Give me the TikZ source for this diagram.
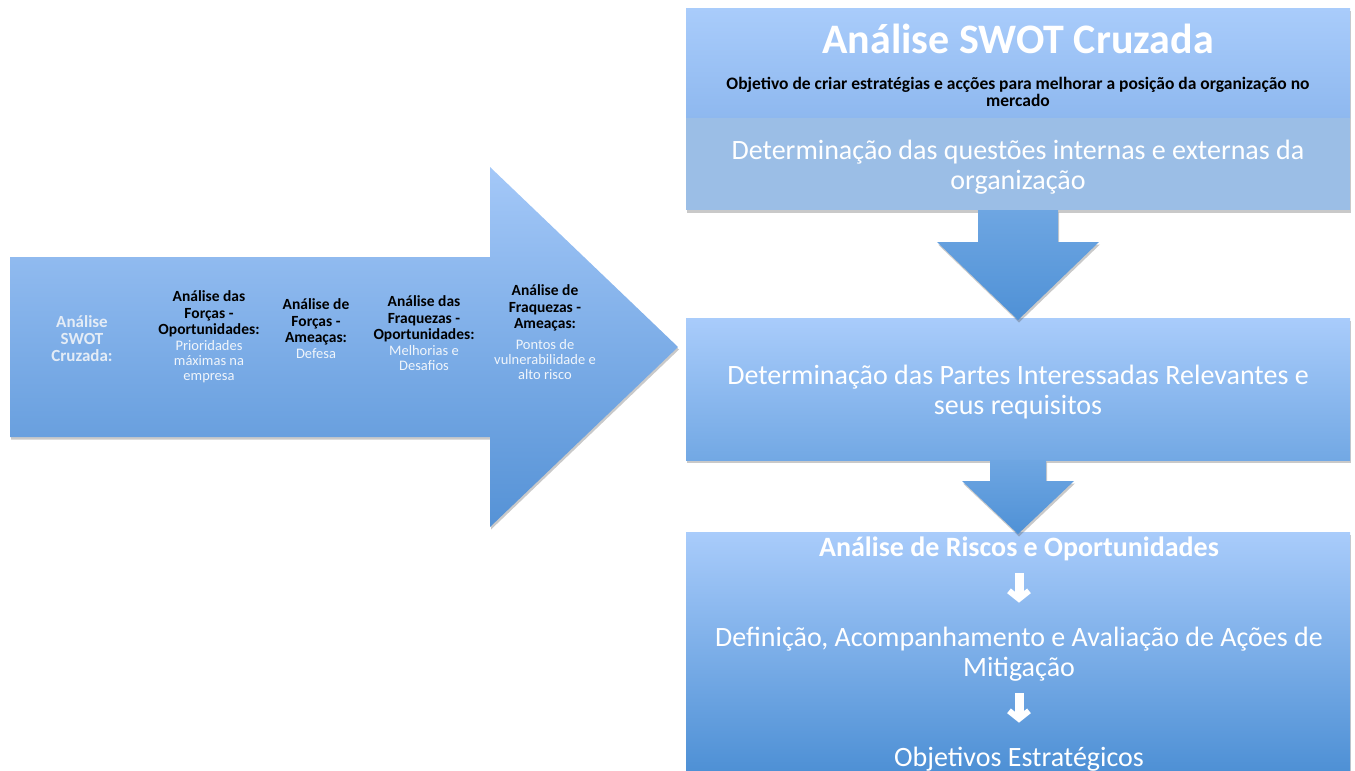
\documentclass[tikz,border=0pt]{standalone}
\usepackage{fontspec}
\setmainfont{Carlito}
\usetikzlibrary{positioning,calc,shadows,arrows.meta}
\definecolor{arrowtop}{HTML}{A4C8F8}
\definecolor{arrowbot}{HTML}{5592D6}
\definecolor{paletop}{HTML}{A9CCFB}
\definecolor{headbot}{HTML}{8EB8EF}
\definecolor{flatbox}{HTML}{9BBEE6}
\definecolor{midbot}{HTML}{72A8E4}
\definecolor{boxbot}{HTML}{4E90D5}
\definecolor{blocktop}{HTML}{6EA6E2}
\definecolor{blockbot}{HTML}{4F91D6}
\definecolor{paletext}{HTML}{E4ECF6}
\definecolor{softwhite}{HTML}{F0F5FB}

\begin{document}
\begin{tikzpicture}[x=1pt,y=-1pt,line join=bevel,
  shadowed/.style={drop shadow={shadow xshift=1pt,shadow yshift=-2.5pt,opacity=0.3,fill=black!70}},
  panel/.style={rectangle,anchor=north west,minimum width=664pt,inner sep=0pt,outer sep=0pt,shadowed},
  titletxt/.style={text=white,inner sep=0pt,font=\bfseries\fontsize{42}{44}\selectfont},
  subtxt/.style={text=black,align=center,inner sep=0pt,font=\bfseries\fontsize{17.5}{16.5}\selectfont},
  bigtxt/.style={text=white,align=center,inner sep=0pt,font=\fontsize{28}{30}\selectfont},
  boldbig/.style={bigtxt,font=\bfseries\fontsize{28}{30}\selectfont},
  paletxt/.style={text=paletext,align=center,inner sep=0pt,font=\bfseries\fontsize{17}{17}\selectfont},
  colhead/.style={text=black,align=center,inner sep=0pt,font=\bfseries\fontsize{15.5}{16.5}\selectfont},
  colsub/.style={text=softwhite,align=center,inner sep=0pt,font=\fontsize{14.5}{15}\selectfont},
  whitearrow/.style={draw=white,line width=9pt,
    -{Straight Barb[length=8pt,width=20pt,line width=6pt]},
    shorten <=12pt,shorten >=24pt},
]
\useasboundingbox (0,0) rectangle (1355,771);
%%
% Node: big arrow
\path[top color=arrowtop,bottom color=arrowbot,shadowed]
  (10,257) -- (490,257) -- (490,167) -- (678,347) -- (490,527) -- (490,437) -- (10,437) -- cycle;
\node[paletxt] (cruz) at (82,339) {Análise\\SWOT\\Cruzada:};
\node[colhead] (fo) at (209,314) {Análise das\\Forças -\\Oportunidades:};
\node[colsub,below=3pt of fo] (foSub) {Prioridades\\máximas na\\empresa};
\node[colhead] (fa) at (316,322) {Análise de\\Forças -\\Ameaças:};
\node[colsub,below=3pt of fa] (faSub) {Defesa};
\node[colhead] (wo) at (424,319) {Análise das\\Fraquezas -\\Oportunidades:};
\node[colsub,below=3pt of wo] (woSub) {Melhorias e\\Desafios};
\node[colhead] (wa) at (545,308) {Análise de\\Fraquezas -\\Ameaças:};
\node[colsub,below=8pt of wa] (waSub) {Pontos de\\vulnerabilidade e\\alto risco};
%
% Node: swot / quest
\node[panel,top color=paletop,bottom color=headbot,minimum height=110pt] (swot) at (686,8) {};
\node[titletxt] (tit) at ($(swot.north)+(0,31)$) {Análise SWOT Cruzada};
\node[subtxt] (obj) at ($(swot.north)+(0,84)$) {Objetivo de criar estratégias e acções para melhorar a posição da organização no\\mercado};
\node[panel,fill=flatbox,minimum height=92pt] (quest) at (swot.south west) {};
\node[bigtxt] (questTxt) at ($(quest.center)+(0,3)$) {Determinação das questões internas e externas da\\organização};
% Node: partes
\node[panel,top color=paletop,bottom color=midbot,minimum height=142pt] (partes) at (686,318) {};
\node[bigtxt] (partesTxt) at ($(partes.center)+(0,3)$) {Determinação das Partes Interessadas Relevantes e\\seus requisitos};
% Node: riscos
\node[panel,top color=paletop,bottom color=boxbot,minimum height=239pt] (riscos) at (686,532) {};
\node[boldbig] (risk) at (1019,549) {Análise de Riscos e Oportunidades};
\node[bigtxt] (defin) at (1019,654) {Definição, Acompanhamento e Avaliação de Ações de\\Mitigação};
\node[bigtxt] (objet) at (1019,759) {Objetivos Estratégicos};
%
% Edge: quest -> partes
\path[top color=blocktop,bottom color=blockbot,shadowed]
  ($(quest.south)+(-40,0)$) -- ++(80,0) -- ++(0,32) -- ++(41,0) -- ($(partes.north)+(0,2)$)
  -- ($(quest.south)+(-81,32)$) -- ++(41,0) -- cycle;
% Edge: partes -> riscos
\path[top color=blocktop,bottom color=blockbot,shadowed]
  ($(partes.south)+(-28,0)$) -- ++(56,0) -- ++(0,21) -- ++(28,0) -- ($(riscos.north)+(0,2)$)
  -- ($(partes.south)+(-56,21)$) -- ++(28,0) -- cycle;
% Edge: risk -> defin -> objet
\draw[whitearrow] (risk) -- (defin);
\draw[whitearrow] (defin) -- (objet);
%
\end{tikzpicture}
\end{document}
